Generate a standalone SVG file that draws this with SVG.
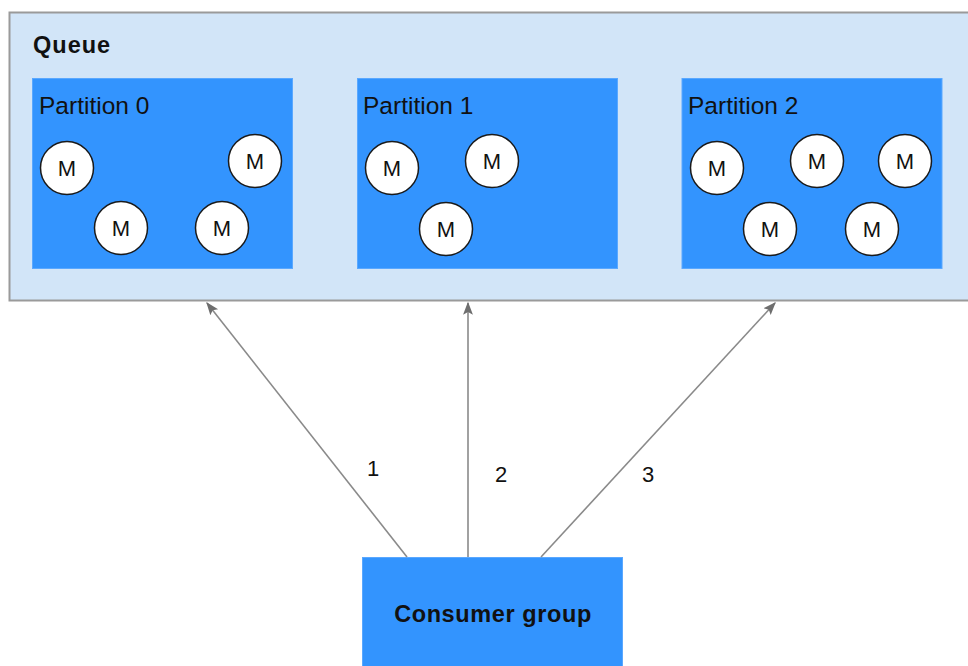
<svg xmlns="http://www.w3.org/2000/svg" width="968" height="666" viewBox="0 0 968 666">
  <style>
    .queue { fill: #d2e5f8; stroke: #9a9a9a; stroke-width: 2; }
    .part { fill: #3394fe; stroke: #5aa8ff; stroke-width: 1; }
    .msg { fill: #ffffff; stroke: #1a1a1a; stroke-width: 1.5; }
    .mtxt { font-family: "Liberation Sans", Arial, sans-serif; font-size: 22px; fill: #111; text-anchor: middle; }
    .ptxt { font-family: "Liberation Sans", Arial, sans-serif; font-size: 24.5px; fill: #111; }
    .btxt { font-family: "Liberation Sans", Arial, sans-serif; font-size: 23.5px; font-weight: bold; fill: #111; }
    .num { font-family: "Liberation Sans", Arial, sans-serif; font-size: 22px; fill: #111; text-anchor: middle; }
    .edge { stroke: #8a8a8a; stroke-width: 1.6; fill: none; marker-end: url(#arrow); }
  </style>
  <defs>
    <marker id="arrow" viewBox="0 0 10 10" refX="9" refY="5" markerWidth="13" markerHeight="13" markerUnits="userSpaceOnUse" orient="auto">
      <path d="M0,1.2 L10,5 L0,8.8 L2,5 Z" fill="#6e6e6e"/>
    </marker>
  </defs>

  <rect width="968" height="666" fill="#ffffff"/>

  <!-- Queue container -->
  <g id="queue">
    <rect class="queue" x="9.5" y="12.5" width="970" height="288"/>
    <text class="btxt" x="33" y="53" letter-spacing="1">Queue</text>
  </g>

  <!-- Partition 0 -->
  <g id="partition0">
    <rect class="part" x="32.5" y="78.5" width="260" height="190"/>
    <text class="ptxt" x="39" y="114">Partition 0</text>
    <circle class="msg" cx="67" cy="168" r="26.5"/><text class="mtxt" x="67" y="176">M</text>
    <circle class="msg" cx="255" cy="161" r="26.5"/><text class="mtxt" x="255" y="169">M</text>
    <circle class="msg" cx="121" cy="228" r="26.5"/><text class="mtxt" x="121" y="236">M</text>
    <circle class="msg" cx="222" cy="228" r="26.5"/><text class="mtxt" x="222" y="236">M</text>
  </g>

  <!-- Partition 1 -->
  <g id="partition1">
    <rect class="part" x="357.5" y="78.5" width="260" height="190"/>
    <text class="ptxt" x="363" y="114">Partition 1</text>
    <circle class="msg" cx="392" cy="168" r="26.5"/><text class="mtxt" x="392" y="176">M</text>
    <circle class="msg" cx="492" cy="161" r="26.5"/><text class="mtxt" x="492" y="169">M</text>
    <circle class="msg" cx="446" cy="229" r="26.5"/><text class="mtxt" x="446" y="237">M</text>
  </g>

  <!-- Partition 2 -->
  <g id="partition2">
    <rect class="part" x="682" y="78.5" width="260" height="190"/>
    <text class="ptxt" x="688" y="114">Partition 2</text>
    <circle class="msg" cx="717" cy="168" r="26.5"/><text class="mtxt" x="717" y="176">M</text>
    <circle class="msg" cx="817" cy="161" r="26.5"/><text class="mtxt" x="817" y="169">M</text>
    <circle class="msg" cx="905" cy="161" r="26.5"/><text class="mtxt" x="905" y="169">M</text>
    <circle class="msg" cx="770" cy="229" r="26.5"/><text class="mtxt" x="770" y="237">M</text>
    <circle class="msg" cx="872" cy="229" r="26.5"/><text class="mtxt" x="872" y="237">M</text>
  </g>

  <!-- Consumer group -->
  <g id="consumer">
    <rect class="part" x="362.5" y="557.5" width="260" height="120"/>
    <text class="btxt" x="493" y="622" text-anchor="middle" letter-spacing="0.6">Consumer group</text>
  </g>

  <!-- Connectors -->
  <g id="connectors">
    <line class="edge" x1="407" y1="557" x2="207" y2="303"/>
    <line class="edge" x1="468" y1="557" x2="468" y2="303"/>
    <line class="edge" x1="541" y1="557" x2="775" y2="303"/>
    <text class="num" x="373" y="476">1</text>
    <text class="num" x="501" y="482">2</text>
    <text class="num" x="648" y="482">3</text>
  </g>
</svg>
